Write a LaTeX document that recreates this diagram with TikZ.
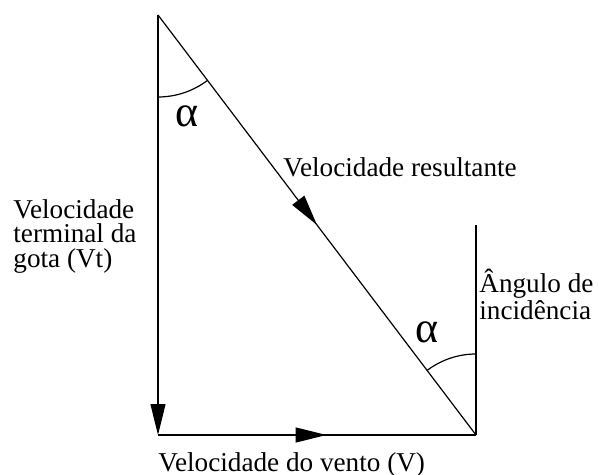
\documentclass[tikz,border=0pt]{standalone}
\usepackage{fontspec}
\setmainfont{Liberation Serif}
\usetikzlibrary{arrows.meta,decorations.markings,calc}

\tikzset{
  vec/.style={line width=0.6pt},
  tiphead/.style={-{Triangle[length=15.5pt,width=7.5pt]}},
  midhead/.style={postaction={decorate},decoration={markings,
      mark=at position #1 with {\arrow{Triangle[length=15.5pt,width=7.5pt]}}}},
  lbl/.style={inner sep=0pt, font=\fontsize{13.6}{12.25}\selectfont},
  anglbl/.style={inner sep=0pt, font=\fontsize{22}{24}\selectfont},
}

\begin{document}
\begin{tikzpicture}[x=0.5pt, y=-0.5pt]
\useasboundingbox (0,0) rectangle (599,475);
% corners of the triangle
\coordinate (top) at (158,15);
\coordinate (corner) at (158,435);
\coordinate (tip) at (476,435);
\coordinate (mast) at (476,225);

\draw[vec, tiphead] (top) -- (corner);
\draw[vec, midhead=0.53] (corner) -- (tip);
\draw[vec, midhead=0.5] (top) -- (tip);
\draw[vec] (mast) -- (tip);

% angle arcs
\draw[vec] (top) ++(90:82) arc[start angle=90, end angle=52.9, radius=82];
\draw[vec] (tip) ++(-90:81) arc[start angle=-90, end angle=-127.1, radius=81];
\node[anglbl] (alphatop) at (187.5,116) {α};
\node[anglbl] (alphatip) at (427.5,332) {α};

% labels
\node[lbl, anchor=base west] (vres) at (283,177) {Velocidade resultante};
\node[lbl, anchor=base west] (vwind) at (158,471) {Velocidade do vento (V)};
\node[lbl, anchor=north west, align=left] (vterm) at (13,199) {Velocidade\\terminal da\\gota (Vt)};
\node[lbl, anchor=north west, align=left] (incid) at (479,269) {Ângulo de\\incidência};
\end{tikzpicture}
\end{document}
